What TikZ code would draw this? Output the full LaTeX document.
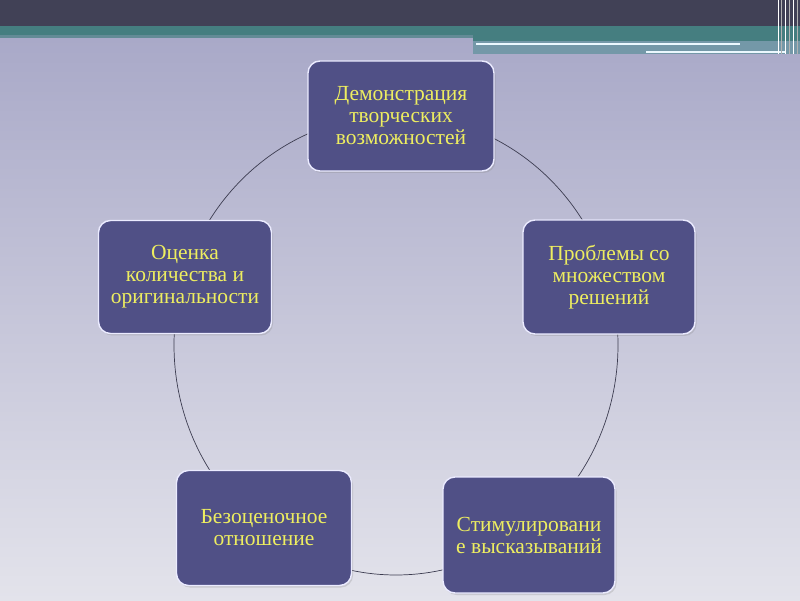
\documentclass[tikz,border=0pt]{standalone}
\usepackage{fontspec}
\setmainfont{Liberation Serif}
\usetikzlibrary{shadows}

\definecolor{headdark}{RGB}{65,65,86}
\definecolor{headteal}{RGB}{69,126,128}
\definecolor{headgrey}{RGB}{116,152,168}
\definecolor{bgtop}{RGB}{169,169,200}
\definecolor{bgbot}{RGB}{227,227,235}
\definecolor{boxfill}{RGB}{80,80,134}
\definecolor{boxtext}{RGB}{238,238,96}
\definecolor{ringline}{RGB}{60,60,80}

\begin{document}
\begin{tikzpicture}[
    x=1pt, y=1pt,
    stage/.style={draw=white!92!blue, line width=1.4pt, rounded corners=12pt, fill=boxfill,
        text=boxtext, align=center, inner sep=4pt,
        font=\fontsize{21.5}{22}\selectfont,
        drop shadow={shadow xshift=1.5pt, shadow yshift=-2pt, opacity=0.25}},
    stripe/.style={draw=white!92!cyan, line width=2pt},
    post/.style={draw=white, line width=1pt},
]
\useasboundingbox (0,0) rectangle (800,600);

% ---- background ----
\shade[top color=bgtop, bottom color=bgbot] (0,0) rectangle (800,562);

% ---- header ----
\fill[headdark] (0,574) rectangle (800,600);
\fill[headteal] (0,563) rectangle (800,574);
\fill[headteal!70!bgtop] (0,562) rectangle (473,565);
\fill[headteal] (473,559) rectangle (800,563);
\fill[headgrey] (473,546) rectangle (800,559);
\coordinate (s1a) at (476,556);
\coordinate (s1b) at (740,556);
\coordinate (s2a) at (646,547.5);
\coordinate (s2b) at (785,547.5);
\draw[stripe] (s1a) -- (s1b);
\draw[stripe] (s2a) -- (s2b);
\foreach \x in {778,785,793} {
    \draw[post] (\x,546) -- (\x,600);
}
\foreach \x in {781,789,797} {
    \draw[gray!60, line width=0.8pt] (\x,546) -- (\x,600);
}

% ---- ring ----
\coordinate (ring) at (396,255);
\draw[ringline, line width=0.7pt] (ring) ellipse [x radius=222, y radius=230];

% ---- stages ----
\node[stage, minimum width=186pt, minimum height=110pt] (demo) at (401,484)
    {Демонстрация\\творческих\\возможностей};
\node[stage, minimum width=172pt, minimum height=114pt] (prob) at (609,323)
    {Проблемы со\\множеством\\решений};
\node[stage, minimum width=172pt, minimum height=116pt] (stim) at (529,65)
    {Стимулировани\\е высказываний};
\node[stage, minimum width=175pt, minimum height=115pt] (bezo) at (264,72)
    {Безоценочное\\отношение};
\node[stage, minimum width=173pt, minimum height=113pt] (otsn) at (185,323)
    {Оценка\\количества и\\оригинальности};
\end{tikzpicture}
\end{document}
